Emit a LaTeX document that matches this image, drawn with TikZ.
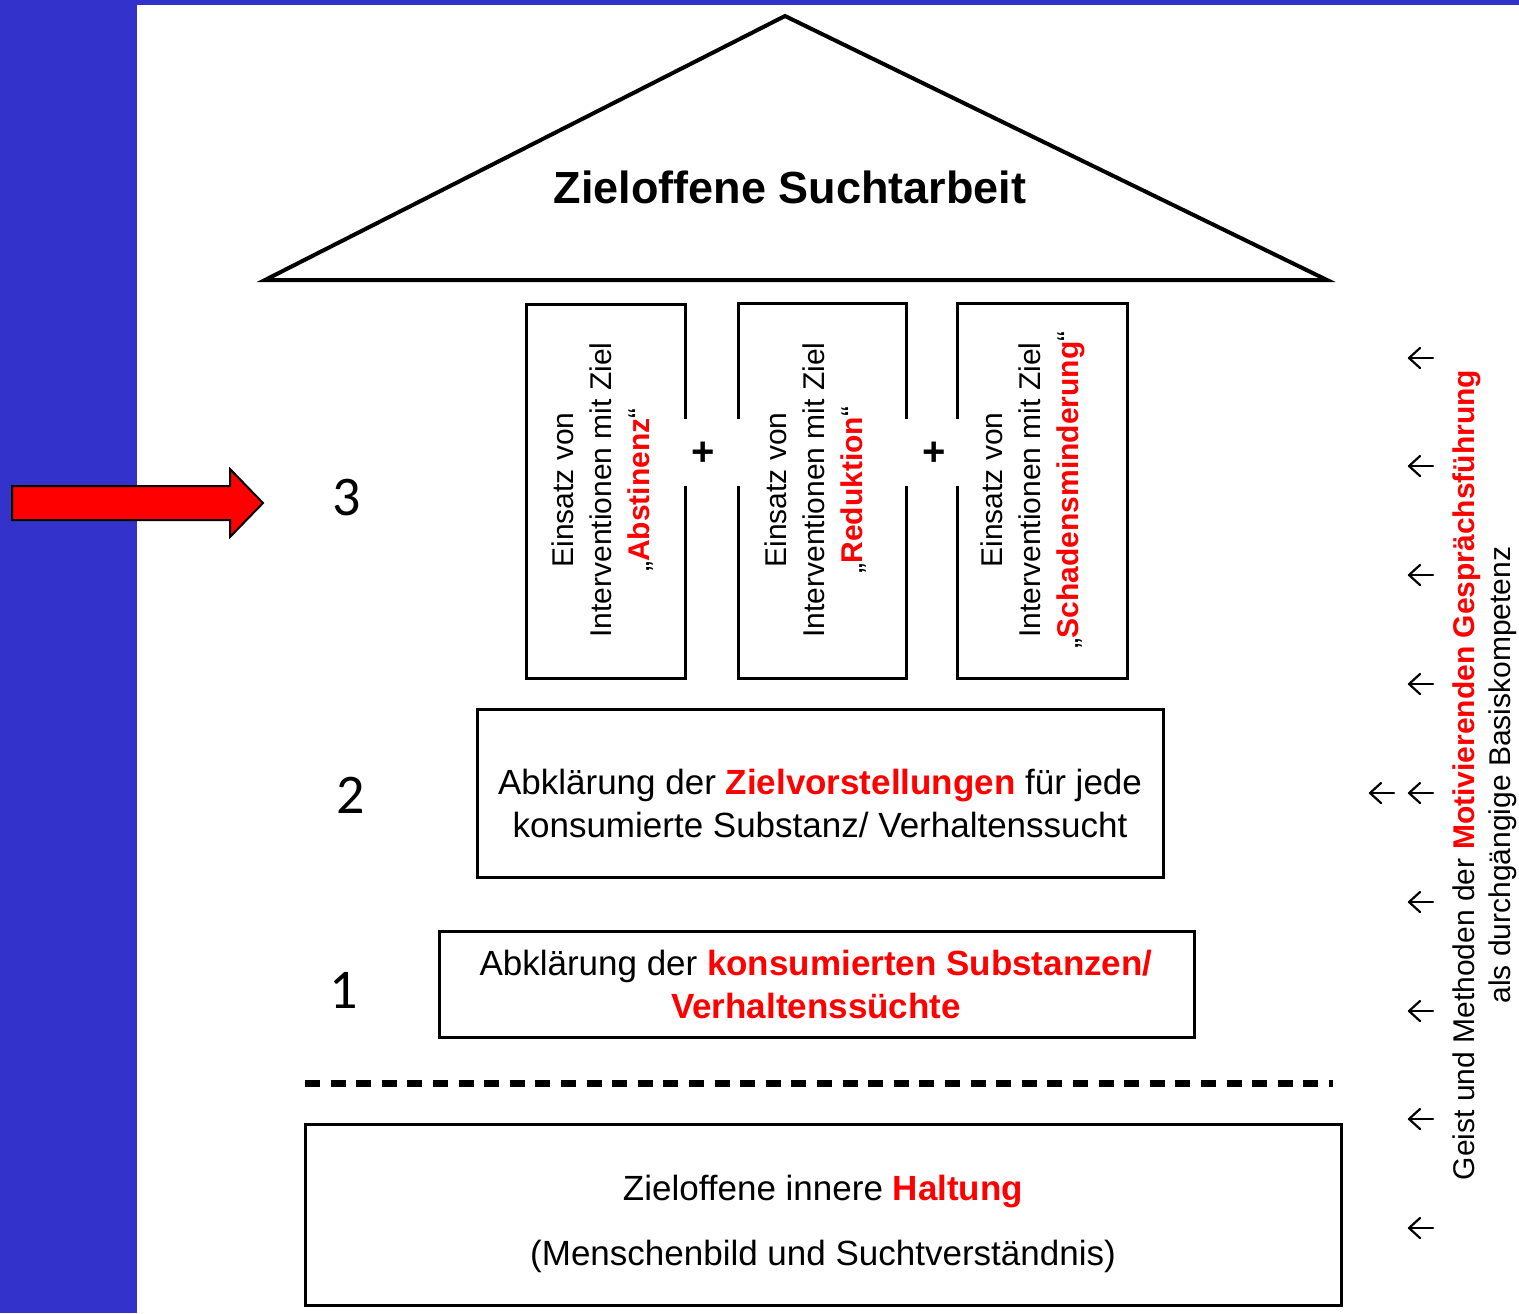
\documentclass[tikz,border=0pt]{standalone}
\usepackage{fontspec}
\setmainfont{Liberation Sans}
\newfontfamily\numfont{Carlito}
\definecolor{barblue}{HTML}{3333CC}
\definecolor{hred}{HTML}{FF0000}
\begin{document}
\begin{tikzpicture}[x=0.5pt,y=-0.5pt,
  box/.style={draw, line width=1.5pt, inner sep=0pt},
  pillartext/.style={rotate=90, align=center, inner sep=0pt, font=\fontsize{15}{19}\selectfont},
  leveltext/.style={align=center, inner sep=0pt, font=\fontsize{17.5}{21.5}\selectfont},
  num/.style={inner sep=0pt, font=\numfont\fontsize{28}{30}\selectfont},
  plus/.style={inner sep=0pt, font=\bfseries\fontsize{20}{22}\selectfont},
  larrow/.style={line width=1.1pt, line cap=round, line join=round}]
\fill[white] (0,0) rectangle (1519,1313);
\useasboundingbox (0,0) rectangle (1519,1313);
\fill[barblue] (0,0) rectangle (137,1313);
\fill[barblue] (0,0) rectangle (1519,5);

% roof
\coordinate (apex) at (785,16);
\coordinate (bl) at (265,280);
\coordinate (br) at (1327,280);
\draw[line width=2pt, line join=miter] (apex) -- (br) -- (bl) -- cycle;
\node[inner sep=0pt, font=\bfseries\fontsize{22.5}{24}\selectfont] (title) at (790,187) {Zieloffene Suchtarbeit};

% pillars
\node[box, minimum width=79.5pt, minimum height=187pt] (p1) at (605.5,491) {};
\node[box, minimum width=84pt, minimum height=187.5pt] (p2) at (822,490.5) {};
\node[box, minimum width=85pt, minimum height=187.5pt] (p3) at (1042,490.5) {};
\fill[white] (680,419) rectangle (743,486);
\fill[white] (901,419) rectangle (962,486);
\node[plus] (plus1) at (703,454) {+};
\node[plus] (plus2) at (934,454) {+};
\node[pillartext] (t1) at (603,490) {Einsatz von\\Interventionen mit Ziel\\„{\color{hred}\bfseries Abstinenz}“};
\node[pillartext] (t2) at (816,490) {Einsatz von\\Interventionen mit Ziel\\„{\color{hred}\bfseries Reduktion}“};
\node[pillartext] (t3) at (1033,490) {Einsatz von\\Interventionen mit Ziel\\„{\color{hred}\bfseries Schadensminderung}“};

% level 2
\node[box, minimum width=343pt, minimum height=84pt] (l2) at (820,793) {};
\node[leveltext] (l2t) at (820,803) {Abklärung der {\color{hred}\bfseries Zielvorstellungen} für jede\\konsumierte Substanz/ Verhaltenssucht};

% level 1
\node[box, minimum width=377.5pt, minimum height=53pt] (l1) at (816.5,984) {};
\node[leveltext] (l1t) at (816,984) {Abklärung der {\color{hred}\bfseries konsumierten Substanzen/}\\{\color{hred}\bfseries Verhaltenssüchte}};

% dashed line
\coordinate (dl) at (305,1083);
\coordinate (dr) at (1333,1083);
\draw[line width=3.5pt, dash pattern=on 7.5pt off 5.3pt] (dl) -- (dr);

% foundation
\node[box, minimum width=518pt, minimum height=90.5pt] (base) at (823,1214.5) {};
\node[leveltext] (bt1) at (823,1192) {Zieloffene innere {\color{hred}\bfseries Haltung}};
\node[leveltext] (bt2) at (823,1256) {(Menschenbild und Suchtverständnis)};

% numbers
\node[num] (n3) at (347,498) {3};
\node[num] (n2) at (351,795) {2};
\node[num] (n1) at (344,990) {1};

% red arrow
\draw[fill=hred, line width=1pt, line join=miter] (12,486) -- (230,486) -- (230,469) -- (263,503) -- (230,537) -- (230,520) -- (12,520) -- cycle;

% right arrows (glyph-like)
\foreach \xx/\yy [count=\i] in {1409/358,1409/466,1409/575,1409/684,1409/793,1409/902,1409/1011,1409/1119,1409/1228,1370/793}{
  \coordinate (ra\i) at (\xx,\yy);
  \draw[larrow] (ra\i) -- ++(24,0);
  \draw[larrow] ([shift={(11,-10)}]ra\i) -- (ra\i) -- ([shift={(11,10)}]ra\i);
}

% right vertical text
\node[rotate=90, align=center, inner sep=0pt, font=\fontsize{15}{18}\selectfont] (side) at (1485,775)
 {Geist und Methoden der {\color{hred}\bfseries Motivierenden Gesprächsführung}\\als durchgängige Basiskompetenz};
\end{tikzpicture}
\end{document}
